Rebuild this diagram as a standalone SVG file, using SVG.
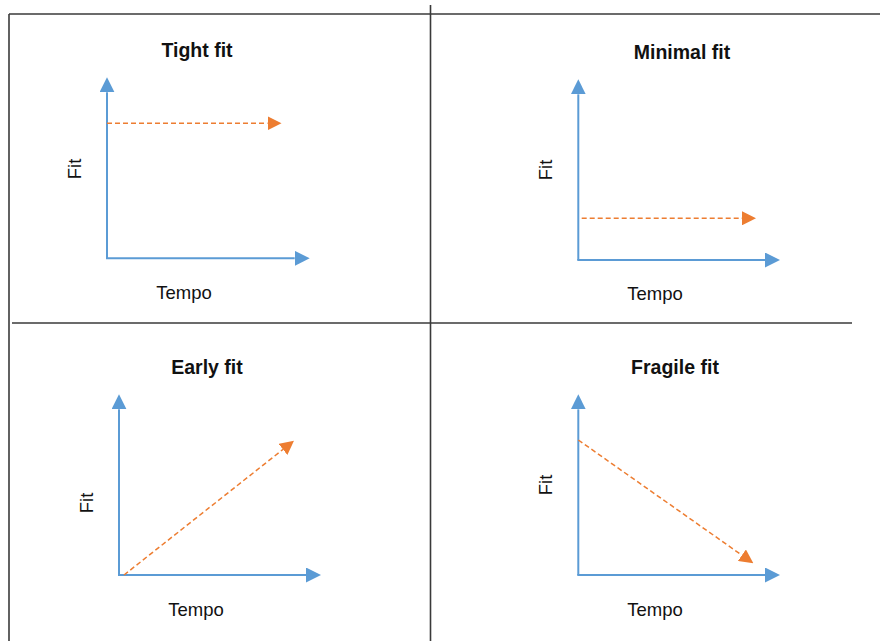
<svg xmlns="http://www.w3.org/2000/svg" width="880" height="641" viewBox="0 0 880 641">
<style>
.frame{stroke:#3a3a3a;stroke-width:1.6;fill:none}
.title{font-family:"Liberation Sans",Arial,sans-serif;font-size:19.5px;font-weight:bold;fill:#111;text-anchor:middle}
.lbl{font-family:"Liberation Sans",Arial,sans-serif;font-size:18.5px;fill:#111;text-anchor:middle}
.axis{stroke:#5B9BD5;stroke-width:2;fill:none;marker-end:url(#ab)}
.trend{stroke:#ED7D31;stroke-width:1.5;fill:none;stroke-dasharray:5 3;marker-end:url(#ao)}
</style>
<defs>
<marker id="ab" markerUnits="userSpaceOnUse" markerWidth="15" markerHeight="15" refX="0" refY="7.5" orient="auto">
<path d="M0,0 L15,7.5 L0,15 z" fill="#5B9BD5"/>
</marker>
<marker id="ao" markerUnits="userSpaceOnUse" markerWidth="14" markerHeight="14" refX="0" refY="7" orient="auto">
<path d="M0,0 L14,7 L0,14 z" fill="#ED7D31"/>
</marker>
</defs>
<rect width="880" height="641" fill="#fff"/>
<g id="frame">
<line class="frame" x1="9" y1="14" x2="880" y2="14"/>
<line class="frame" x1="9" y1="14" x2="9" y2="641"/>
<line class="frame" x1="430.5" y1="5" x2="430.5" y2="641"/>
<line class="frame" x1="12" y1="323" x2="852" y2="323"/>
</g>
<g id="tight-fit">
<text class="title" x="197" y="57">Tight fit</text>
<text class="lbl" x="184" y="299">Tempo</text>
<text class="lbl" transform="translate(81,169) rotate(-90)" x="0" y="0">Fit</text>
</g>
<g id="minimal-fit">
<text class="title" x="682" y="59">Minimal fit</text>
<text class="lbl" x="655" y="300">Tempo</text>
<text class="lbl" transform="translate(552,170) rotate(-90)" x="0" y="0">Fit</text>
</g>
<g id="early-fit">
<text class="title" x="207" y="374">Early fit</text>
<text class="lbl" x="196" y="616">Tempo</text>
<text class="lbl" transform="translate(93,503) rotate(-90)" x="0" y="0">Fit</text>
</g>
<g id="fragile-fit">
<text class="title" x="675" y="374">Fragile fit</text>
<text class="lbl" x="655" y="616">Tempo</text>
<text class="lbl" transform="translate(552,485) rotate(-90)" x="0" y="0">Fit</text>
</g>
<g id="connectors">
<line class="axis" x1="107" y1="258.3" x2="107" y2="92.3"/>
<line class="axis" x1="106" y1="258.3" x2="294.7" y2="258.3"/>
<line class="trend" x1="107" y1="123.3" x2="267.5" y2="123.3"/>

<line class="axis" x1="578.3" y1="260" x2="578.3" y2="94.3"/>
<line class="axis" x1="577.3" y1="260" x2="765" y2="260"/>
<line class="trend" x1="581.7" y1="218.3" x2="742" y2="218.3"/>

<line class="axis" x1="119" y1="575" x2="119" y2="409.3"/>
<line class="axis" x1="118" y1="575" x2="306" y2="575"/>
<line class="trend" x1="124" y1="575" x2="283" y2="449.4"/>

<line class="axis" x1="578.3" y1="575" x2="578.3" y2="409.3"/>
<line class="axis" x1="577.3" y1="575" x2="765" y2="575"/>
<line class="trend" x1="578.3" y1="440" x2="741.9" y2="555.2"/>
</g>
</svg>
